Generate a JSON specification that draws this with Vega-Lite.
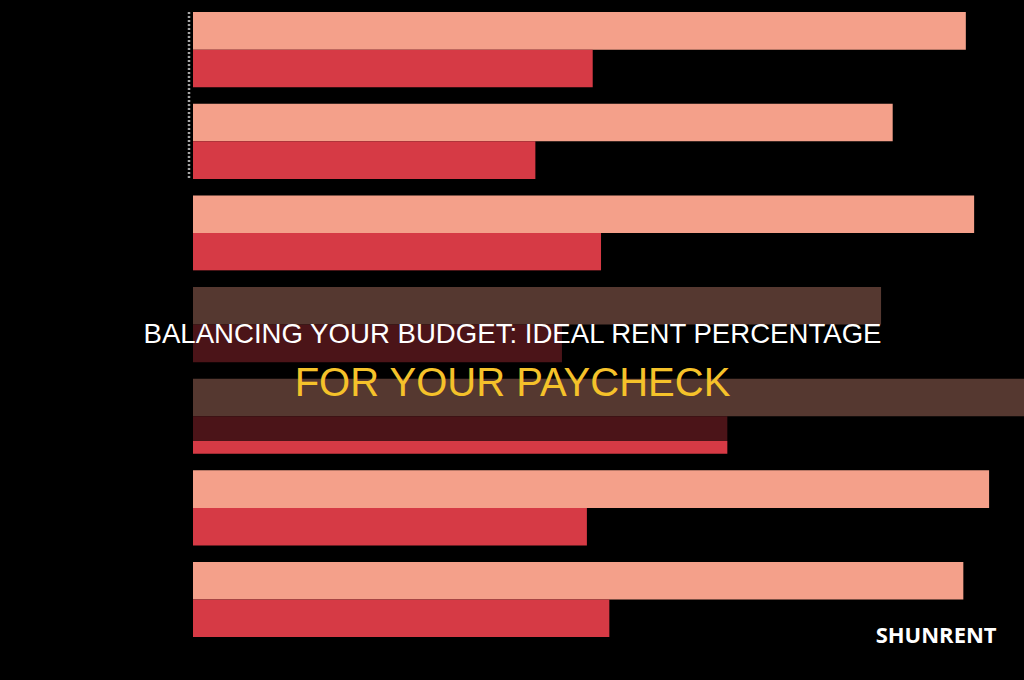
{
  "$schema": "https://vega.github.io/schema/vega-lite/v6.json",
  "width": 831,
  "height": 680,
  "autosize": {"type": "none"},
  "padding": {"left": 193, "top": 0, "right": 0, "bottom": 0},
  "background": "#000000",
  "config": {"view": {"stroke": null}},
  "title": {
    "text": "BALANCING YOUR BUDGET: IDEAL RENT PERCENTAGE",
    "subtitle": "FOR YOUR PAYCHECK",
    "color": "#FFFFFF",
    "subtitleColor": "#F5C22A",
    "font": "Liberation Sans",
    "subtitleFont": "Liberation Sans",
    "fontSize": 27.6,
    "fontWeight": "normal",
    "subtitleFontSize": 40,
    "subtitleFontWeight": "normal",
    "anchor": "middle",
    "orient": "top",
    "offset": 0,
    "subtitlePadding": 15,
    "dx": -96,
    "dy": 404,
    "zindex": 10
  },
  "data": {"values": [
      {"group": "G1", "series": "income", "value": 93.0},
      {"group": "G1", "series": "rent", "value": 48.1},
      {"group": "G2", "series": "income", "value": 84.2},
      {"group": "G2", "series": "rent", "value": 41.2},
      {"group": "G3", "series": "income", "value": 94.0},
      {"group": "G3", "series": "rent", "value": 49.1},
      {"group": "G4", "series": "income", "value": 82.8},
      {"group": "G4", "series": "rent", "value": 44.4},
      {"group": "G5", "series": "income", "value": 106.0},
      {"group": "G5", "series": "rent", "value": 64.3},
      {"group": "G6", "series": "income", "value": 95.8},
      {"group": "G6", "series": "rent", "value": 47.4},
      {"group": "G7", "series": "income", "value": 92.7},
      {"group": "G7", "series": "rent", "value": 50.1}
  ]},
  "layer": [
    {
      "mark": {"type": "bar", "clip": true},
      "encoding": {
        "y": {"field": "group", "type": "nominal", "axis": null,
              "scale": {"paddingInner": 0.18, "paddingOuter": 0.30, "align": 0.22}},
        "yOffset": {"field": "series", "type": "nominal", "sort": ["income", "rent"], "scale": {"paddingInner": 0}},
        "x": {"field": "value", "type": "quantitative", "axis": null, "scale": {"domain": [0, 100]}},
        "color": {"field": "series", "type": "nominal", "legend": null,
                  "scale": {"domain": ["income", "rent"], "range": ["#F4A08A", "#D63A45"]}}
      }
    },
    {
      "data": {"values": [{"label": "SHUNRENT"}]},
      "mark": {"type": "rule", "color": "#A8A8A8", "strokeWidth": 2.5, "strokeDash": [2, 2], "xOffset": -4},
      "encoding": {
        "x": {"datum": 0, "type": "quantitative"},
        "y": {"datum": "G1", "type": "nominal", "bandPosition": 0},
        "y2": {"datum": "G2", "bandPosition": 1}
      }
    },
    {
      "data": {"values": [{"label": "SHUNRENT"}]},
      "mark": {"type": "rect", "color": "#000000", "opacity": 0.65},
      "encoding": {
        "x": {"datum": 0, "type": "quantitative"},
        "x2": {"datum": 100},
        "y": {"datum": "G3", "type": "nominal", "bandPosition": 1},
        "y2": {"datum": "G5", "bandPosition": 0.83}
      }
    },
    {
      "data": {"values": [{"label": "SHUNRENT"}]},
      "mark": {"type": "text", "color": "#FFFFFF", "font": "Open Sans", "fontWeight": "bold", "fontSize": 22, "align": "right", "baseline": "alphabetic", "dy": 6},
      "encoding": {
        "text": {"field": "label"},
        "x": {"datum": 96.7, "type": "quantitative"},
        "y": {"datum": "G7", "type": "nominal", "bandPosition": 1}
      }
    }
  ]
}
